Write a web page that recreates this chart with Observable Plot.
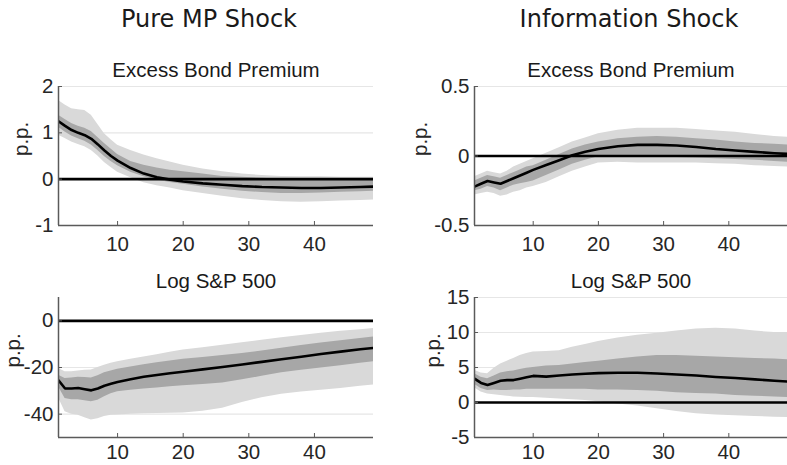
<!DOCTYPE html>
<html>
<head>
<meta charset="utf-8">
<script src="https://cdn.jsdelivr.net/npm/d3@7"></script>
<script src="https://cdn.jsdelivr.net/npm/@observablehq/plot@0.6"></script>
<style>
  html, body { margin: 0; padding: 0; background: #fff; }
  #fig { position: relative; width: 787px; height: 465px; overflow: hidden; background: #fff; }
  .title { position: absolute; font-family: "DejaVu Sans", sans-serif; font-size: 24px; color: #1a1a1a; white-space: nowrap; transform: translate(-50%, -50%); }
  .panel { position: absolute; }
</style>
</head>
<body>
<div id="fig"></div>
<script>
// Horizons (months) at which values were read
const horizons = [1,2,3,4,5,6,7,8,9,10,12,14,16,18,20,23,26,29,32,35,38,41,44,47,49];

// Column titles
const columnTitles = ["Pure MP Shock", "Information Shock"];
const panelTitles = ["Excess Bond Premium", "Excess Bond Premium", "Log S&P 500", "Log S&P 500"];
const yLabel = "p.p.";
const xTicks = [10, 20, 30, 40];

// Panel 1: Pure MP shock, Excess Bond Premium
const ebpMP_mean = [1.25,1.15,1.06,1.00,0.95,0.87,0.75,0.62,0.50,0.40,0.24,0.12,0.04,-0.01,-0.05,-0.09,-0.12,-0.15,-0.17,-0.18,-0.19,-0.19,-0.18,-0.17,-0.16];
const ebpMP_lo68 = [1.12,1.02,0.93,0.87,0.82,0.74,0.62,0.49,0.38,0.29,0.15,0.05,-0.02,-0.07,-0.11,-0.17,-0.22,-0.26,-0.29,-0.31,-0.31,-0.30,-0.28,-0.27,-0.26];
const ebpMP_hi68 = [1.38,1.29,1.20,1.14,1.10,1.03,0.90,0.77,0.65,0.53,0.38,0.30,0.24,0.19,0.16,0.11,0.06,0.04,0.02,0.00,-0.01,-0.01,-0.02,-0.02,-0.02];
const ebpMP_lo90 = [0.95,0.88,0.80,0.75,0.70,0.62,0.50,0.36,0.25,0.15,0.03,-0.08,-0.14,-0.19,-0.25,-0.31,-0.37,-0.42,-0.46,-0.49,-0.50,-0.49,-0.47,-0.46,-0.45];
const ebpMP_hi90 = [1.70,1.60,1.52,1.50,1.48,1.38,1.18,0.98,0.85,0.73,0.62,0.52,0.44,0.37,0.30,0.22,0.16,0.11,0.08,0.06,0.05,0.05,0.04,0.04,0.04];

// Panel 2: Information shock, Excess Bond Premium
const ebpCBI_mean = [-0.22,-0.20,-0.18,-0.19,-0.20,-0.18,-0.16,-0.14,-0.12,-0.10,-0.065,-0.03,0.005,0.03,0.05,0.07,0.08,0.08,0.075,0.065,0.05,0.04,0.03,0.02,0.015];
const ebpCBI_lo68 = [-0.25,-0.24,-0.22,-0.23,-0.25,-0.23,-0.21,-0.20,-0.19,-0.18,-0.14,-0.10,-0.06,-0.03,-0.005,0.0,0.0,-0.005,-0.01,-0.015,-0.02,-0.025,-0.03,-0.04,-0.045];
const ebpCBI_hi68 = [-0.18,-0.16,-0.14,-0.15,-0.16,-0.14,-0.12,-0.10,-0.08,-0.07,-0.03,0.01,0.05,0.08,0.10,0.125,0.135,0.14,0.135,0.125,0.115,0.10,0.09,0.085,0.08];
const ebpCBI_lo90 = [-0.28,-0.27,-0.26,-0.27,-0.29,-0.28,-0.26,-0.25,-0.23,-0.22,-0.19,-0.15,-0.11,-0.08,-0.05,-0.045,-0.05,-0.05,-0.05,-0.05,-0.055,-0.06,-0.07,-0.075,-0.08];
const ebpCBI_hi90 = [-0.15,-0.13,-0.11,-0.12,-0.13,-0.11,-0.08,-0.06,-0.04,-0.02,0.02,0.06,0.10,0.13,0.16,0.185,0.20,0.20,0.20,0.19,0.18,0.17,0.155,0.14,0.135];

// Panel 3: Pure MP shock, Log S&P 500
const spMP_mean = [-25.5,-29,-29,-28.8,-29.3,-29.8,-29,-27.8,-27,-26.2,-25,-24,-23.2,-22.5,-21.8,-20.8,-19.8,-18.7,-17.6,-16.5,-15.4,-14.2,-13.2,-12.2,-11.6];
const spMP_lo68 = [-28.3,-33.3,-33.8,-33.8,-34.2,-34.7,-34,-32.5,-31.3,-30.4,-29.8,-29.2,-28.8,-28.3,-27.8,-27.3,-26.6,-25.3,-23.8,-22.3,-21.2,-20.2,-19.2,-18.2,-17.5];
const spMP_hi68 = [-23.3,-24.7,-24.5,-24.2,-24.3,-24.5,-23.5,-22.3,-21.5,-20.8,-19.8,-18.8,-18,-17.2,-16.5,-15.7,-14.9,-14,-12.9,-11.8,-10.6,-9.5,-8.5,-7.6,-6.9];
const spMP_lo90 = [-33,-39,-40,-40.5,-41.5,-42.5,-42,-41,-40.5,-40.4,-40,-39.8,-39.7,-39.6,-39.5,-38.8,-37.5,-35,-33,-31.5,-30.5,-29.8,-29,-28,-27.5];
const spMP_hi90 = [-20.4,-21.8,-21.8,-21.5,-21.2,-21.1,-20,-19,-18.2,-17.5,-16.5,-15.5,-14.5,-13.5,-12.5,-11.5,-10.5,-9.4,-8.3,-7.3,-6.3,-5.3,-4.5,-3.8,-3.3];

// Panel 4: Information shock, Log S&P 500
const spCBI_mean = [3.4,2.8,2.5,2.8,3.1,3.2,3.2,3.4,3.6,3.8,3.7,3.85,4.0,4.1,4.2,4.25,4.25,4.15,4.0,3.85,3.65,3.5,3.3,3.1,3.0];
const spCBI_lo68 = [2.6,2.0,1.7,1.8,1.7,1.7,1.8,1.8,1.9,1.9,1.9,1.9,1.9,1.9,1.8,1.8,1.7,1.6,1.4,1.3,1.2,1.0,0.9,0.8,0.7];
const spCBI_hi68 = [4.1,3.6,3.4,3.8,4.2,4.4,4.5,4.7,4.9,5.0,5.2,5.3,5.5,5.7,5.9,6.2,6.5,6.7,6.7,6.6,6.5,6.4,6.3,6.2,6.1];
const spCBI_lo90 = [2.1,1.5,1.2,1.1,1.0,0.9,0.8,0.75,0.7,0.7,0.6,0.5,0.4,0.3,0.1,-0.2,-0.5,-0.9,-1.3,-1.6,-1.8,-1.9,-2.0,-2.1,-2.15];
const spCBI_hi90 = [4.6,4.2,4.1,4.9,5.5,5.9,6.3,6.7,7.0,7.2,7.3,7.4,7.9,8.3,8.7,9.2,9.6,9.9,10.2,10.5,10.6,10.5,10.2,10.0,10.0];

// Y axis domains and ticks
const yDomain1 = [-1, 2],     yTicks1 = [-1, 0, 1, 2];
const yDomain2 = [-0.5, 0.5], yTicks2 = [-0.5, 0, 0.5];
const yDomain3 = [-50, 10],   yTicks3 = [-40, -20, 0];
const yDomain4 = [-5, 15],    yTicks4 = [-5, 0, 5, 10, 15];

function rows(mean, lo68, hi68, lo90, hi90) {
  return horizons.map((h, i) => ({h, mean: mean[i], lo68: lo68[i], hi68: hi68[i], lo90: lo90[i], hi90: hi90[i]}));
}

const panels = [
  {data: rows(ebpMP_mean, ebpMP_lo68, ebpMP_hi68, ebpMP_lo90, ebpMP_hi90), yd: yDomain1, yt: yTicks1, title: panelTitles[0],
   left: 0, top: 56, width: 390, ml: 58, mr: 17, mt: 30, ph: 139, mb: 35, labelDx: -37, pad: 11},
  {data: rows(ebpCBI_mean, ebpCBI_lo68, ebpCBI_hi68, ebpCBI_lo90, ebpCBI_hi90), yd: yDomain2, yt: yTicks2, title: panelTitles[1],
   left: 400, top: 56, width: 387, ml: 74, mr: 0, mt: 30, ph: 139, mb: 35, labelDx: -54, pad: 11},
  {data: rows(spMP_mean, spMP_lo68, spMP_hi68, spMP_lo90, spMP_hi90), yd: yDomain3, yt: yTicks3, title: panelTitles[2],
   left: 0, top: 267, width: 390, ml: 58, mr: 17, mt: 30, ph: 140, mb: 28, labelDx: -45, pad: 7},
  {data: rows(spCBI_mean, spCBI_lo68, spCBI_hi68, spCBI_lo90, spCBI_hi90), yd: yDomain4, yt: yTicks4, title: panelTitles[3],
   left: 400, top: 267, width: 387, ml: 74, mr: 0, mt: 30, ph: 140, mb: 28, labelDx: -41, pad: 7}
];

const fig = document.getElementById("fig");
const axisColor = "#5a5a5a";
const fs = 20.5;

panels.forEach(p => {
  const ymin = p.yd[0];
  const chart = Plot.plot({
    width: p.width,
    height: p.mt + p.ph + p.mb,
    marginLeft: p.ml, marginRight: p.mr, marginTop: p.mt, marginBottom: p.mb,
    style: {fontFamily: "'Liberation Sans', Arial, sans-serif", fontSize: fs + "px", color: "#262626", background: "transparent", overflow: "visible"},
    x: {domain: [1, 49]},
    y: {domain: p.yd},
    marks: [
      Plot.gridY(p.yt.filter(t => t !== ymin), {stroke: "#e6e6e6", strokeOpacity: 1, strokeWidth: 1.2}),
      Plot.areaY(p.data, {x: "h", y1: "lo90", y2: "hi90", fill: "#d9d9d9", clip: true}),
      Plot.areaY(p.data, {x: "h", y1: "lo68", y2: "hi68", fill: "#a7a7a7", clip: true}),
      Plot.line(p.data, {x: "h", y: "mean", stroke: "#000", strokeWidth: 2.6, clip: true}),
      Plot.ruleY([0], {stroke: "#000", strokeWidth: 2.6}),
      Plot.text([yLabel], {frameAnchor: "left", dx: p.labelDx, rotate: -90, fontSize: fs, fill: "#262626"}),
      Plot.axisX(xTicks, {tickSize: 0, tickPadding: p.pad, fontSize: fs, label: null}),
      Plot.axisY(p.yt, {tickSize: 0, tickPadding: 5, fontSize: fs, label: null, tickFormat: d => String(d)}),
      Plot.ruleY([ymin], {stroke: axisColor, strokeWidth: 1.5}),
      Plot.ruleX([1], {stroke: axisColor, strokeWidth: 1.5}),
      Plot.ruleX(xTicks, {x: d => d, y1: ymin, y2: ymin, insetBottom: 4, stroke: axisColor, strokeWidth: 1}),
      Plot.ruleY(p.yt, {y: d => d, x1: 1, x2: 1, insetRight: -4, stroke: axisColor, strokeWidth: 1}),
      Plot.text([p.title], {frameAnchor: "top", dy: -16, lineAnchor: "middle", fontSize: fs, fill: "#1a1a1a"})
    ]
  });
  chart.classList.add("panel");
  chart.style.left = p.left + "px";
  chart.style.top = p.top + "px";
  fig.appendChild(chart);
});

// Column titles
[[209, 19], [629, 19]].forEach((pos, i) => {
  const d = document.createElement("div");
  d.className = "title";
  d.textContent = columnTitles[i];
  d.style.left = pos[0] + "px";
  d.style.top = pos[1] + "px";
  fig.appendChild(d);
});
</script>
</body>
</html>
